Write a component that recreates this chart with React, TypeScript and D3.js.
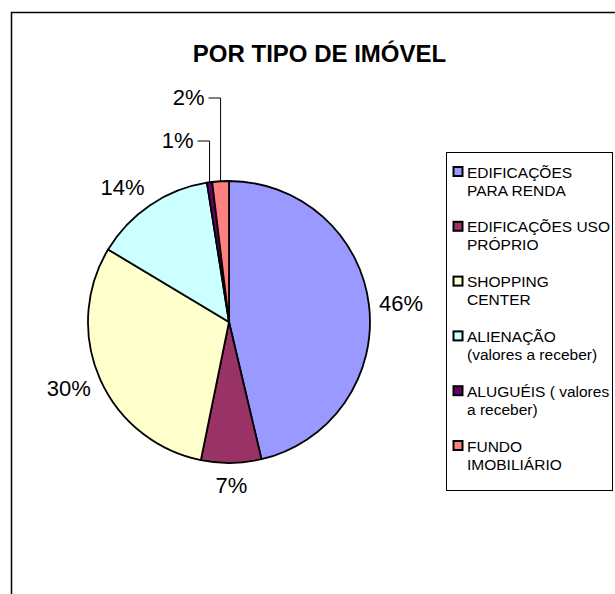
import React, { useEffect, useRef } from "react";
import * as d3 from "d3";

const categories = [
  "EDIFICAÇÕES PARA RENDA",
  "EDIFICAÇÕES USO PRÓPRIO",
  "SHOPPING CENTER",
  "ALIENAÇÃO (valores a receber)",
  "ALUGUÉIS ( valores a receber)",
  "FUNDO IMOBILIÁRIO",
];
// legend text broken the way the original wraps it
const legendLines = [
  ["EDIFICAÇÕES", "PARA RENDA"],
  ["EDIFICAÇÕES USO", "PRÓPRIO"],
  ["SHOPPING", "CENTER"],
  ["ALIENAÇÃO", "(valores a receber)"],
  ["ALUGUÉIS ( valores", "a receber)"],
  ["FUNDO", "IMOBILIÁRIO"],
];
const values = [46.3, 6.9, 30.4, 13.9, 0.6, 1.9];
const colors = ["#9999FF", "#993366", "#FFFFCC", "#CCFFFF", "#660066", "#FF8080"];
const title = "POR TIPO DE IMÓVEL";

const App = () => {
  const svgRef = useRef<SVGSVGElement>(null);

  useEffect(() => {
    const width = 615;
    const height = 594;
    const cx = 229;
    const cy = 322;
    const radius = 141;
    const font = "'Liberation Sans', Arial, sans-serif";

    const svg = d3.select(svgRef.current).attr("width", width).attr("height", height);
    svg.selectAll("*").remove();

    svg.append("rect").attr("width", width).attr("height", height).attr("fill", "#fff");

    // chart frame (continues past the picture on the right and bottom)
    svg
      .append("rect")
      .attr("x", 11.5)
      .attr("y", 12.5)
      .attr("width", 660)
      .attr("height", 640)
      .attr("fill", "none")
      .attr("stroke", "#000")
      .attr("stroke-width", 1.5);

    svg
      .append("text")
      .attr("x", 319.5)
      .attr("y", 62)
      .attr("text-anchor", "middle")
      .attr("font-family", font)
      .attr("font-weight", "bold")
      .attr("font-size", 24)
      .text(title);

    const data = categories.map((c, i) => ({ name: c, value: values[i], color: colors[i] }));
    const total = d3.sum(values);

    const pie = d3
      .pie<any>()
      .value((d) => d.value)
      .sort(null);
    const arc = d3.arc<any>().innerRadius(0).outerRadius(radius);

    const g = svg.append("g").attr("transform", `translate(${cx},${cy})`);
    const arcs = pie(data);

    g.selectAll("path")
      .data(arcs)
      .enter()
      .append("path")
      .attr("d", arc)
      .attr("fill", (d) => d.data.color)
      .attr("stroke", "#000")
      .attr("stroke-width", 1.8)
      .attr("stroke-linejoin", "round");

    // labels
    let small = 0;
    arcs.forEach((d) => {
      const pct = Math.round((d.data.value / total) * 100) + "%";
      const a = (d.startAngle + d.endAngle) / 2;
      const dx = Math.sin(a);
      const dy = -Math.cos(a);
      if (d.endAngle - d.startAngle > 0.15) {
        const ax = (radius + 10) * dx;
        const ay = (radius + 10) * dy;
        const anchor = dx > 0.3 ? "start" : dx < -0.3 ? "end" : "middle";
        g.append("text")
          .attr("x", ax)
          .attr("y", ay + dy * 12 + 8)
          .attr("text-anchor", anchor)
          .attr("font-family", font)
          .attr("font-size", 22)
          .text(pct);
      } else {
        // thin slice: label above the pie with an elbow leader
        const ex = radius * dx;
        const ey = radius * dy;
        const ly = -radius - 40 - small * 43;
        small++;
        g.append("path")
          .attr("d", `M${ex},${ey}L${ex},${ly}L${ex - 12},${ly}`)
          .attr("fill", "none")
          .attr("stroke", "#000")
          .attr("stroke-width", 1);
        g.append("text")
          .attr("x", ex - 16)
          .attr("y", ly + 7)
          .attr("text-anchor", "end")
          .attr("font-family", font)
          .attr("font-size", 22)
          .text(pct);
      }
    });

    // legend
    const lx = 446.5;
    const ly = 152.5;
    svg
      .append("rect")
      .attr("x", lx)
      .attr("y", ly)
      .attr("width", 166)
      .attr("height", 338)
      .attr("fill", "#fff")
      .attr("stroke", "#000")
      .attr("stroke-width", 1);

    const item = svg
      .selectAll("g.legend")
      .data(data)
      .enter()
      .append("g")
      .attr("class", "legend")
      .attr("transform", (d, i) => `translate(${lx}, ${ly + 19 + i * 54.8})`);

    item
      .append("rect")
      .attr("x", 7)
      .attr("y", -4.5)
      .attr("width", 9)
      .attr("height", 9)
      .attr("fill", (d) => d.color)
      .attr("stroke", "#000")
      .attr("stroke-width", 2);

    item
      .append("text")
      .attr("font-family", font)
      .attr("font-size", 15.5)
      .selectAll("tspan")
      .data((d, i) => legendLines[i])
      .enter()
      .append("tspan")
      .attr("x", 20.5)
      .attr("y", (t, j) => 6 + j * 18)
      .text((t) => t);
  }, []);

  return <svg ref={svgRef} style={{ position: "absolute", left: 0, top: 0 }}></svg>;
};

export default App;
